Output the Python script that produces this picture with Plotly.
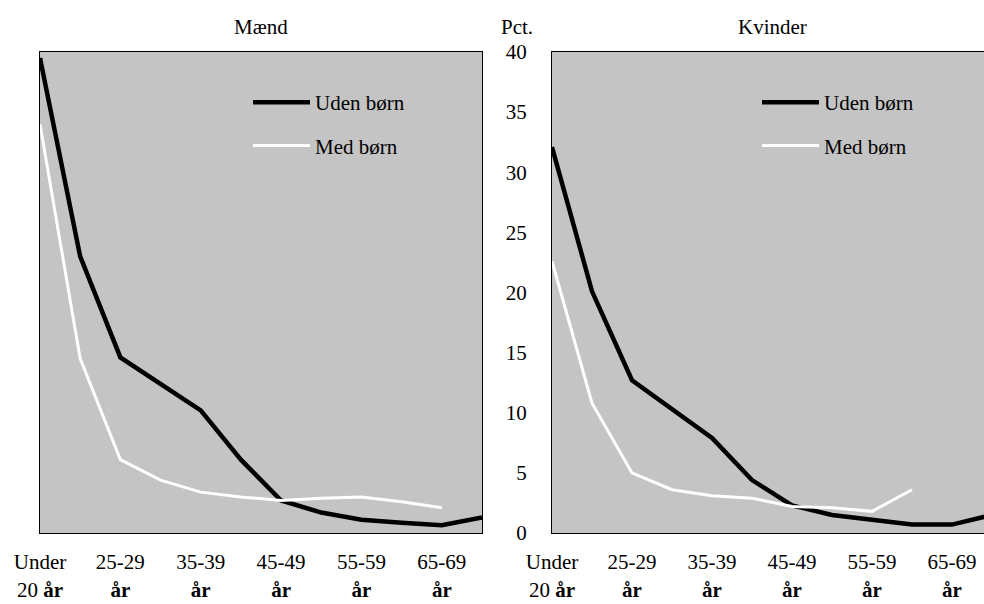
import plotly.graph_objects as go

categories = ["Under 20 år", "20-24 år", "25-29 år", "30-34 år", "35-39 år", "40-44 år",
              "45-49 år", "50-54 år", "55-59 år", "60-64 år", "65-69 år", "70 år+"]
tick_cats = categories[::2]
tick_text = ["Under<br>20 <b>år</b>", "25-29<br><b>år</b>", "35-39<br><b>år</b>",
             "45-49<br><b>år</b>", "55-59<br><b>år</b>", "65-69<br><b>år</b>"]

maend_uden = [39.5, 23.0, 14.6, 12.4, 10.2, 6.1, 2.7, 1.7, 1.1, 0.85, 0.65, 1.3]
maend_med = [34.0, 14.5, 6.1, 4.4, 3.4, 3.0, 2.7, 2.9, 3.0, 2.6, 2.1, None]
kvinder_uden = [32.1, 20.1, 12.7, 10.3, 7.9, 4.4, 2.3, 1.5, 1.1, 0.7, 0.7, 1.5]
kvinder_med = [22.6, 10.8, 5.0, 3.6, 3.1, 2.9, 2.2, 2.1, 1.8, 3.6, None, None]

FONT = "Liberation Serif"
BG = "#c4c4c4"
W, H = 984, 604
MT, MB = 52, 71
PH = H - MT - MB

fig = go.Figure()
fig.add_trace(go.Scatter(x=categories, y=maend_uden, name="Uden børn", mode="lines",
                         line=dict(color="black", width=4.5), xaxis="x", yaxis="y",
                         legend="legend", legendgroup="a"))
fig.add_trace(go.Scatter(x=categories, y=maend_med, name="Med børn", mode="lines",
                         line=dict(color="white", width=3), xaxis="x", yaxis="y",
                         legend="legend", legendgroup="b"))
fig.add_trace(go.Scatter(x=categories, y=kvinder_uden, name="Uden børn", mode="lines",
                         line=dict(color="black", width=4.5), xaxis="x2", yaxis="y2",
                         legend="legend2", legendgroup="c"))
fig.add_trace(go.Scatter(x=categories, y=kvinder_med, name="Med børn", mode="lines",
                         line=dict(color="white", width=3), xaxis="x2", yaxis="y2",
                         legend="legend2", legendgroup="d"))


def px_x(p):
    return p / W


def px_y(p):
    return (H - MB - p) / PH


axis_common = dict(showgrid=False, zeroline=False, showline=True, linecolor="black",
                   linewidth=1, automargin=False)
xcommon = dict(axis_common, type="category", categoryorder="array", categoryarray=categories,
               tickmode="array", tickvals=tick_cats, ticktext=tick_text,
               ticks="outside", ticklen=10, tickcolor="rgba(0,0,0,0)",
               tickfont=dict(family=FONT, size=21, color="black"))
legend_common = dict(xanchor="left", yanchor="top", bgcolor="rgba(0,0,0,0)",
                     font=dict(family=FONT, size=21, color="black"),
                     itemwidth=57, tracegroupgap=13, traceorder="grouped")

fig.update_layout(
    template="none",
    width=W, height=H,
    margin=dict(l=0, r=0, t=MT, b=MB, autoexpand=False),
    paper_bgcolor="white", plot_bgcolor=BG,
    showlegend=True,
    xaxis=dict(xcommon, domain=[px_x(40), px_x(482)], range=[0, 11], mirror=True),
    yaxis=dict(axis_common, range=[0, 40], showticklabels=False, ticks="", mirror=True,
               anchor="x"),
    xaxis2=dict(xcommon, domain=[px_x(552), 1.0], range=[0, 10.8], mirror=True, anchor="y2"),
    yaxis2=dict(axis_common, range=[0, 40], tickmode="array",
                tickvals=[0, 5, 10, 15, 20, 25, 30, 35, 40],
                ticks="outside", ticklen=20, tickcolor="rgba(0,0,0,0)",
                tickfont=dict(family=FONT, size=21, color="black"), anchor="x2"),
    legend=dict(legend_common, x=px_x(248), y=px_y(82)),
    legend2=dict(legend_common, x=px_x(757), y=px_y(82)),
    annotations=[
        dict(text="Mænd", x=px_x(261), y=px_y(27), xref="paper", yref="paper",
             showarrow=False, xanchor="center", yanchor="middle",
             font=dict(family=FONT, size=21, color="black")),
        dict(text="Pct.", x=px_x(517), y=px_y(27), xref="paper", yref="paper",
             showarrow=False, xanchor="center", yanchor="middle",
             font=dict(family=FONT, size=21, color="black")),
        dict(text="Kvinder", x=px_x(772), y=px_y(27), xref="paper", yref="paper",
             showarrow=False, xanchor="center", yanchor="middle",
             font=dict(family=FONT, size=21, color="black")),
    ],
)

fig.write_html("out.html", config={"displayModeBar": False},
               post_script="document.body.style.margin='0';")
